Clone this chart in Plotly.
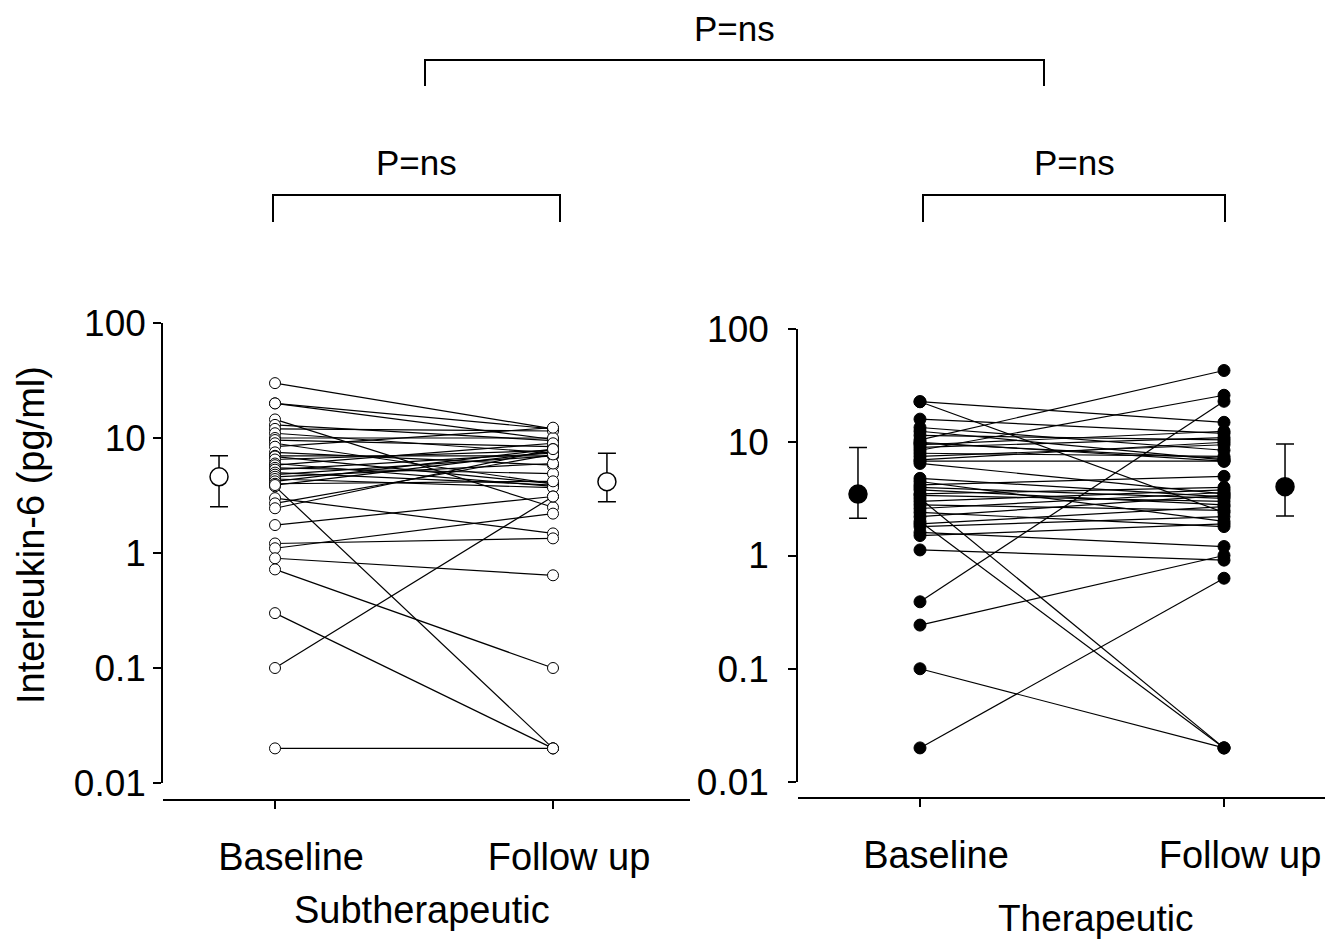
import plotly.graph_objects as go

W, H = 1336, 945

# ---------------- data ----------------
groups = ["Subtherapeutic", "Therapeutic"]
timepoints = ["Baseline", "Follow up"]
ytitle = "Interleukin-6 (pg/ml)"
ytick_vals = [0.01, 0.1, 1, 10, 100]
ytick_text = ["0.01", "0.1", "1", "10", "100"]

sub_baseline = [30, 20, 20, 14.5, 13, 12, 11, 10, 9.6, 9, 8.4, 7.5, 7, 6.9, 6.5, 6.0,
                5.8, 5.5, 5.3, 5.0, 4.8, 4.6, 4.4, 4.2, 4.0, 3.8, 3.9, 3.0, 2.7, 2.45,
                1.75, 1.21, 1.1, 0.9, 0.72, 0.3, 0.1, 0.02]
sub_followup = [12, 12, 9.7, 2.5, 9.5, 11.5, 7.4, 10, 8.4, 4.0, 12.3, 5.8, 7, 4.0, 7.8, 3.8,
                9.0, 4.9, 7.4, 3.9, 7.0, 6.0, 3.7, 8.0, 4.2, 0.02, 7.6, 1.48, 7.2, 8.0,
                3.1, 1.34, 2.2, 0.64, 0.1, 0.02, 3.1, 0.02]

ther_baseline = [22.8, 22.8, 16, 13.5, 12.5, 11.5, 10.5, 10, 9.5, 9, 8.5, 8, 7.5, 7, 6.8, 6.5,
                 4.5, 4.2, 4.0, 3.8, 3.5, 3.4, 3.2, 3.0, 2.8, 2.6, 2.4, 2.2, 2.0, 1.9,
                 1.8, 1.6, 1.5, 1.12, 0.39, 0.243, 0.1, 0.02, 4.8, 9.8]
ther_followup = [15, 2.4, 12, 8.5, 7.0, 10.5, 43, 6.8, 12.5, 11, 26, 7.5, 9.5, 10, 6.8, 3.5,
                 2.0, 5.0, 3.2, 2.8, 4.0, 3.0, 0.02, 3.8, 2.5, 3.6, 1.8, 3.4, 0.02, 2.7,
                 2.2, 1.2, 1.9, 0.91, 23, 1.0, 0.02, 0.63, 3.3, 7.2]

# group means with error bars (mean, upper, lower)
sub_mean = [4.6, 4.17]
sub_upper = [7.0, 7.36]
sub_lower = [2.53, 2.79]
ther_mean = [3.49, 4.05]
ther_upper = [9.0, 9.66]
ther_lower = [2.13, 2.23]

p_labels = ["P=ns", "P=ns", "P=ns"]

# ---------------- helpers ----------------
def px(x):
    return x / W

def py(y):
    return 1 - y / H

FONT = "Liberation Sans, Arial, sans-serif"

fig = go.Figure()

def add_panel(base, follow, mean, upper, lower, xa, ya, filled, mean_x):
    lx, ly = [], []
    for b, f in zip(base, follow):
        lx += [1, 2, None]
        ly += [b, f, None]
    fig.add_trace(go.Scatter(x=lx, y=ly, mode="lines", xaxis=xa, yaxis=ya,
                             line=dict(color="black", width=1.2), hoverinfo="skip",
                             showlegend=False))
    mx = [1] * len(base) + [2] * len(follow)
    my = list(base) + list(follow)
    fig.add_trace(go.Scatter(x=mx, y=my, mode="markers", xaxis=xa, yaxis=ya,
                             marker=dict(size=11 if not filled else 12,
                                         color="black" if filled else "white",
                                         line=dict(color="black", width=1)),
                             showlegend=False))
    plus = [u - m for u, m in zip(upper, mean)]
    minus = [m - l for m, l in zip(mean, lower)]
    fig.add_trace(go.Scatter(x=mean_x, y=mean, mode="markers", xaxis=xa, yaxis=ya,
                             marker=dict(size=18, color="black" if filled else "white",
                                         line=dict(color="black", width=1.5)),
                             error_y=dict(type="data", array=plus, arrayminus=minus,
                                          color="black", thickness=1.5, width=9),
                             showlegend=False))

add_panel(sub_baseline, sub_followup, sub_mean, sub_upper, sub_lower, "x", "y", False,
          [0.7986, 2.194])
add_panel(ther_baseline, ther_followup, ther_mean, ther_upper, ther_lower, "x2", "y2", True,
          [0.796, 2.2007])

yaxis_common = dict(type="log", range=[-2, 2], tickvals=ytick_vals, ticktext=ytick_text,
                    showgrid=False, zeroline=False, showline=True, linecolor="black",
                    linewidth=1.5, ticks="outside", ticklen=8, tickwidth=1.5,
                    tickcolor="black", automargin=False,
                    tickfont=dict(family=FONT, size=37, color="black"))
xaxis_common = dict(tickvals=[1, 2], ticktext=timepoints, showgrid=False, zeroline=False,
                    showline=True, linecolor="black", linewidth=2, ticks="outside",
                    ticklen=8, tickwidth=1.5, tickcolor="black", anchor="free",
                    automargin=False,
                    tickfont=dict(family=FONT, size=38, color="black"),
                    ticklabelshift=16, ticklabelstandoff=15)

fig.update_layout(
    template="none",
    width=W, height=H, margin=dict(l=0, r=0, t=0, b=0, autoexpand=False),
    paper_bgcolor="white", plot_bgcolor="rgba(0,0,0,0)", showlegend=False,
    xaxis=dict(xaxis_common, domain=[px(163), px(690)], range=[0.5971, 2.4928],
               position=py(800)),
    yaxis=dict(yaxis_common, domain=[py(783), py(323)], anchor="x",
               ticklabelstandoff=0),
    xaxis2=dict(xaxis_common, domain=[px(798), px(1325)], range=[0.5987, 2.3322],
                position=py(798)),
    yaxis2=dict(yaxis_common, domain=[py(782), py(329)], anchor="x2",
                ticklabelstandoff=12),
)

def label(xc, yc, text, size, angle=0):
    fig.add_annotation(x=px(xc), y=py(yc), xref="paper", yref="paper", text=text,
                       showarrow=False, xanchor="center", yanchor="middle",
                       textangle=angle,
                       font=dict(family=FONT, size=size, color="black"))

# axis title and group labels
label(31, 535, ytitle, 38, -90)
label(422, 910, groups[0], 38)
label(1095, 918, groups[1], 37)

# significance brackets
def bracket(x0, x1, ytop, ybot, text, ylab):
    fig.add_shape(type="path", xref="paper", yref="paper",
                  path=f"M {px(x0)},{py(ybot)} L {px(x0)},{py(ytop)} L {px(x1)},{py(ytop)} L {px(x1)},{py(ybot)}",
                  line=dict(color="black", width=2))
    label((x0 + x1) / 2, ylab, text, 35)

bracket(425, 1044, 60, 86, p_labels[0], 28)
bracket(273, 560, 195, 222, p_labels[1], 163)
bracket(923, 1225, 195, 222, p_labels[2], 163)

fig.write_html("out.html")
